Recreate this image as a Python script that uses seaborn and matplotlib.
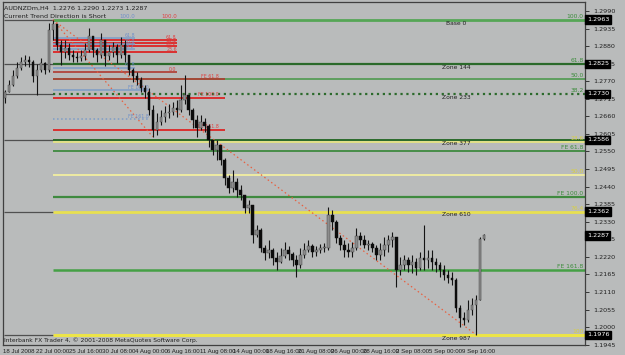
import numpy as np
import pandas as pd
import matplotlib
matplotlib.use("Agg")
import matplotlib.pyplot as plt
import seaborn as sns
from matplotlib.transforms import blended_transform_factory

# ---------------- data (AUDNZDm, H4, bars) ----------------
first_open = 1.2718
close = [1.2736, 1.2758, 1.2787, 1.2812, 1.2830, 1.2837, 1.2830, 1.2787, 1.2805, 1.2827,
         1.2805, 1.2930, 1.2949, 1.2884, 1.2862, 1.2874, 1.2852, 1.2846, 1.2843, 1.2849,
         1.2868, 1.2912, 1.2868, 1.2852, 1.2899, 1.2849, 1.2862, 1.2877, 1.2852, 1.2884,
         1.2852, 1.2805, 1.2787, 1.2774, 1.2749, 1.2736, 1.2680, 1.2618, 1.2643, 1.2658,
         1.2671, 1.2674, 1.2686, 1.2680, 1.2711, 1.2727, 1.2680, 1.2649, 1.2624, 1.2643,
         1.2630, 1.2586, 1.2555, 1.2571, 1.2524, 1.2467, 1.2436, 1.2455, 1.2430, 1.2414,
         1.2373, 1.2383, 1.2289, 1.2305, 1.2248, 1.2233, 1.2242, 1.2217, 1.2205, 1.2223,
         1.2242, 1.2229, 1.2211, 1.2195, 1.2226, 1.2242, 1.2255, 1.2236, 1.2242, 1.2248,
         1.2248, 1.2351, 1.2330, 1.2280, 1.2258, 1.2242, 1.2236, 1.2248, 1.2286, 1.2273,
         1.2258, 1.2261, 1.2248, 1.2226, 1.2242, 1.2258, 1.2273, 1.2283, 1.2180, 1.2195,
         1.2211, 1.2195, 1.2205, 1.2186, 1.2217, 1.2211, 1.2217, 1.2205, 1.2195, 1.2180,
         1.2164, 1.2155, 1.2148, 1.2060, 1.2029, 1.2023, 1.2054, 1.2070, 1.2086, 1.2276,
         1.2287]
high = [1.2743, 1.2774, 1.2805, 1.2830, 1.2846, 1.2852, 1.2849, 1.2837, 1.2824, 1.2843,
        1.2830, 1.2952, 1.2962, 1.2937, 1.2899, 1.2899, 1.2890, 1.2868, 1.2862, 1.2868,
        1.2890, 1.2937, 1.2912, 1.2874, 1.2921, 1.2899, 1.2884, 1.2893, 1.2887, 1.2909,
        1.2899, 1.2852, 1.2812, 1.2799, 1.2783, 1.2758, 1.2749, 1.2696, 1.2671, 1.2680,
        1.2693, 1.2699, 1.2705, 1.2711, 1.2758, 1.2790, 1.2718, 1.2686, 1.2664, 1.2664,
        1.2655, 1.2636, 1.2586, 1.2586, 1.2571, 1.2530, 1.2477, 1.2492, 1.2467, 1.2445,
        1.2414, 1.2398, 1.2383, 1.2320, 1.2311, 1.2258, 1.2273, 1.2248, 1.2236, 1.2248,
        1.2267, 1.2255, 1.2236, 1.2226, 1.2248, 1.2264, 1.2273, 1.2261, 1.2255, 1.2261,
        1.2264, 1.2376, 1.2367, 1.2336, 1.2289, 1.2273, 1.2264, 1.2267, 1.2311, 1.2298,
        1.2289, 1.2273, 1.2267, 1.2258, 1.2264, 1.2283, 1.2289, 1.2298, 1.2273, 1.2220,
        1.2226, 1.2220, 1.2226, 1.2217, 1.2236, 1.2320, 1.2242, 1.2242, 1.2217, 1.2205,
        1.2195, 1.2180, 1.2173, 1.2155, 1.2070, 1.2048, 1.2086, 1.2092, 1.2101, 1.2283,
        1.2290]
low = [1.2702, 1.2736, 1.2755, 1.2780, 1.2805, 1.2818, 1.2815, 1.2768, 1.2727, 1.2799,
       1.2793, 1.2799, 1.2899, 1.2868, 1.2821, 1.2843, 1.2837, 1.2830, 1.2830, 1.2834,
       1.2837, 1.2862, 1.2846, 1.2830, 1.2843, 1.2818, 1.2837, 1.2846, 1.2827, 1.2843,
       1.2830, 1.2790, 1.2768, 1.2758, 1.2736, 1.2718, 1.2664, 1.2596, 1.2602, 1.2633,
       1.2643, 1.2655, 1.2664, 1.2658, 1.2674, 1.2699, 1.2664, 1.2624, 1.2596, 1.2618,
       1.2611, 1.2564, 1.2539, 1.2524, 1.2508, 1.2445, 1.2420, 1.2423, 1.2408, 1.2398,
       1.2358, 1.2358, 1.2264, 1.2283, 1.2236, 1.2211, 1.2217, 1.2195, 1.2180, 1.2202,
       1.2217, 1.2211, 1.2192, 1.2158, 1.2186, 1.2217, 1.2236, 1.2220, 1.2223, 1.2233,
       1.2236, 1.2242, 1.2305, 1.2264, 1.2242, 1.2220, 1.2220, 1.2220, 1.2242, 1.2258,
       1.2248, 1.2242, 1.2236, 1.2211, 1.2211, 1.2223, 1.2236, 1.2251, 1.2126, 1.2164,
       1.2180, 1.2173, 1.2170, 1.2164, 1.2180, 1.2180, 1.2186, 1.2180, 1.2173, 1.2158,
       1.2148, 1.2139, 1.2133, 1.2048, 1.2001, 1.2007, 1.2017, 1.2038, 1.1976, 1.2086,
       1.2273]

date_labels = ["18 Jul 2008", "22 Jul 00:00", "25 Jul 16:00", "30 Jul 08:00", "4 Aug 00:00",
               "6 Aug 16:00", "11 Aug 08:00", "14 Aug 00:00", "18 Aug 16:00", "21 Aug 08:00",
               "26 Aug 00:00", "28 Aug 16:00", "2 Sep 08:00", "5 Sep 00:00", "9 Sep 16:00"]
date_bars = [-0.5, 7.75, 16, 24.25, 32.5, 40.5, 48.75, 57, 65.25, 73.5, 81.75, 89.75, 98, 106.25, 114.5]

price_ticks = [1.2990, 1.2935, 1.2880, 1.2825, 1.2770, 1.2715, 1.2660, 1.2605, 1.2550, 1.2495,
               1.2440, 1.2385, 1.2330, 1.2275, 1.2220, 1.2165, 1.2110, 1.2055, 1.2000, 1.1945]
marked_prices = [1.2963, 1.2825, 1.2730, 1.2586, 1.2362, 1.2287, 1.1976]

# Fibonacci / zone levels drawn from the top bar to the right edge
zone_prices = [1.2963, 1.2825, 1.2730, 1.2586, 1.2362, 1.1976]
zone_names = ["Base 0", "Zone 144", "Zone 233", "Zone 377", "Zone 610", "Zone 987"]
level_prices = [1.2963, 1.2825, 1.2777, 1.2730, 1.2586, 1.2580, 1.2552, 1.2477, 1.2408, 1.2362, 1.2180, 1.1976]
level_labels = ["100.0", "61.8", "50.0", "38.2", "", "23.6", "FE 61.8", "50.0", "FE 100.0", "76.4", "FE 161.8", "100"]
red_prices = [1.2899, 1.2890, 1.2880, 1.2862, 1.2799, 1.2777, 1.2718, 1.2618]
red_labels = ["61.8", "50.0", "38.2", "23.6", "0.0", "FE 61.8", "FE 100.0", "FE 161.8"]
blue_prices = [1.2905, 1.2887, 1.2871, 1.2812, 1.2743, 1.2652]
blue_labels = ["61.8", "50.0", "38.2", "61.8", "FE 100.0", "FE 161.8"]

# ---------------- styling ----------------
sns.set_style("white")
plt.rcParams["font.family"] = ["DejaVu Sans"]
NARROW = ["Liberation Sans Narrow", "Liberation Sans", "DejaVu Sans"]
BG = "#b9bbbb"
W, H = 625, 355
fig = plt.figure(figsize=(W / 100, H / 100), dpi=100, facecolor=BG)
ax = fig.add_axes([3 / W, 1 - 345 / H, (585 - 3) / W, (345 - 2) / H], facecolor=BG)

df = pd.DataFrame({"bar": np.arange(len(close)), "close": close, "high": high, "low": low})
df["open"] = [first_open] + close[:-1]
top_bar = int(np.argmax(df["high"]))
x0, x1 = -0.25, 145.25
ax.set_xlim(x0, x1)
ax.set_ylim(1.1944, 1.3018)

# gray zone lines (left part) and coloured levels from the top bar
ax.hlines(zone_prices, x0, top_bar, color="#505050", lw=0.9, zorder=1)
lvl_style = {
    "100.0": ("#56a656", 2.0, "-"), "61.8": ("#2b6a2b", 1.6, "-"), "50.0": ("#4f9a4f", 1.2, "-"),
    "38.2": ("#2b6a2b", 1.6, ":"), "": ("#2b6a2b", 1.4, "-"), "23.6": ("#eeea7a", 1.1, "-"),
    "FE 61.8": ("#3f8a3f", 1.3, "-"), "FE 100.0": ("#3f8a3f", 1.6, "-"), "FE 161.8": ("#45a045", 1.8, "-"),
    "76.4": ("#e8e050", 2.0, "-"), "100": ("#ece448", 2.2, "-"),
}
yellows = ("#eeea7a", "#e8e050", "#ece448", "#f2eea0")
for p, lab in zip(level_prices, level_labels):
    c, lw, ls = lvl_style[lab]
    if lab == "50.0" and p < 1.26:
        c, lw = "#f2eea0", 1.3
    ax.hlines(p, top_bar, x1, color=c, lw=lw, ls=ls, zorder=2)
    if lab:
        tc = "#d8d040" if c in yellows else "#3c8c3c"
        ax.text(x1 - 0.4, p + 0.0002, lab, ha="right", va="bottom", fontsize=4.3, color=tc, zorder=5)
for p, name in zip(zone_prices, zone_names):
    ax.text(113, p - 0.0003, name, ha="center", va="top", fontsize=4.3, color="#202020", zorder=5)

for p, lab in zip(red_prices, red_labels):
    end = 55 if lab.startswith("FE") else 43
    c = "#b03a30" if lab in ("0.0", "FE 61.8") else "#e01818"
    ax.hlines(p, top_bar, end, color=c, lw=1.2, zorder=3)
    ax.text(end - 1.5 if lab.startswith("FE") else end, p + 0.0001, lab, ha="right", va="bottom",
            fontsize=3.4, color="#e04040", zorder=5)
ax.text(43, 1.2963 + 0.0003, "100.0", ha="right", va="bottom", fontsize=4.0, color="#e04040")
for p, lab in zip(blue_prices, blue_labels):
    end = 36 if lab.startswith("FE") else 32.5
    ax.hlines(p, top_bar, end, color="#7c9cc8", lw=1.1, ls=":" if lab == "FE 161.8" else "-", zorder=3)
    ax.text(end, p + 0.0001, lab, ha="right", va="bottom", fontsize=3.4, color="#6f8fc8", zorder=5)
ax.text(32.5, 1.2963 + 0.0003, "100.0", ha="right", va="bottom", fontsize=4.0, color="#6f8fc8")

# dotted trend lines (peak -> swing low, peak -> final low)
i_low1 = 37
i_low2 = int(np.argmin(df["low"]))
for j in (i_low1, i_low2):
    seg = pd.DataFrame({"bar": [top_bar, j], "price": [df["high"][top_bar], df["low"][j]]})
    sns.lineplot(data=seg, x="bar", y="price", ax=ax, color="#e86040", lw=0.9,
                 linestyle=(0, (1.2, 2.2)), zorder=4, legend=False)

# candles
bull = df["close"] >= df["open"]
ax.vlines(df["bar"], df["low"], df["high"], color="#141414", lw=0.8, zorder=6)
body_lo = np.minimum(df["open"], df["close"])
body_h = np.maximum(np.abs(df["close"] - df["open"]), 0.00015)
ax.bar(df["bar"][bull], body_h[bull], bottom=body_lo[bull], width=0.6, color="#8c8c8c",
       edgecolor="#3a3a3a", lw=0.3, zorder=7)
ax.bar(df["bar"][~bull], body_h[~bull], bottom=body_lo[~bull], width=0.6, color="#0c0c0c",
       edgecolor="#0c0c0c", lw=0.3, zorder=7)

# axes
ax.set_xlabel("")
ax.set_ylabel("")
ax.yaxis.tick_right()
ax.set_yticks(price_ticks)
ax.set_yticklabels([f"{v:.4f}" for v in price_ticks])
ax.set_xticks(date_bars)
ax.set_xticklabels(date_labels)
ax.tick_params(axis="y", labelsize=4.6, colors="#202020", length=3, width=0.6, pad=3, direction="out")
ax.tick_params(axis="x", labelsize=4.4, colors="#202020", length=2.5, width=0.6, pad=0.3, direction="out")
for lbl in ax.get_xticklabels():
    lbl.set_horizontalalignment("left")
    lbl.set_family(NARROW)
for s in ax.spines.values():
    s.set_color("#404040")
    s.set_linewidth(0.9)

tr = blended_transform_factory(ax.transAxes, ax.transData)
for p in marked_prices:
    ax.text(1.003, p, f"{p:.4f}", transform=tr, ha="left", va="center", fontsize=4.6, color="white",
            zorder=10, bbox=dict(boxstyle="square,pad=0.25", fc="#000000", ec="#000000"), clip_on=False)

fig.text(4 / W, 1 - 8 / H, "AUDNZDm,H4  1.2276 1.2290 1.2273 1.2287", fontsize=4.6, color="#202020", va="center")
fig.text(4 / W, 1 - 16 / H, "Current Trend Direction is Short", fontsize=4.6, color="#202020", va="center")
fig.text(4 / W, 1 - 340 / H, "Interbank FX Trader 4, \u00a9 2001-2008 MetaQuotes Software Corp.",
         fontsize=4.3, color="#202020", va="center")

fig.savefig("out.png", dpi=100, facecolor=BG)
